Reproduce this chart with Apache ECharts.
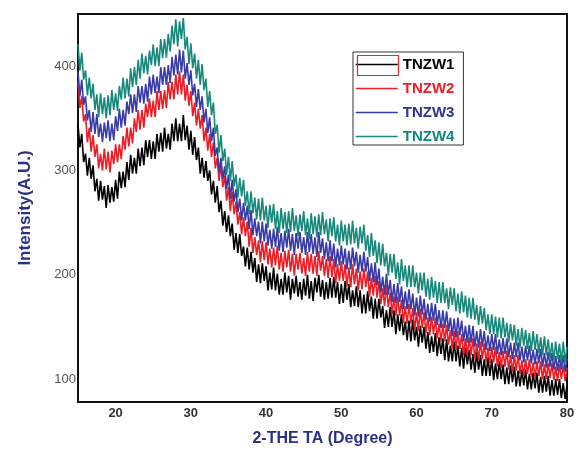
<!DOCTYPE html>
<html>
<head>
<meta charset="utf-8">
<script src="https://cdn.jsdelivr.net/npm/echarts@6/dist/echarts.min.js"></script>
<style>
html,body{margin:0;padding:0;background:#fff;}
#chart{width:579px;height:452px;}
</style>
</head>
<body>
<div id="chart"></div>
<script>
// 2-theta sampling grid (degrees): 15 to 80 every 0.25
const thetaStart = 15;
const thetaStep = 0.25;

// Intensity values (a.u.), one per 0.25 degree
const tnzw1 = [344,322,335,308, 316,295,312,292, 305,280,292,271, 290,272,285,264, 286,269,284,270, 291,273,299,283, 299,284,308,291, 315,297,312,297, 321,304,322,305, 329,313,329,311, 328,311,335,318, 336,318,341,321, 335,320,345,328, 350,328,345,328, 353,329,343,320, 338,315,332,310, 322,297,312,293, 309,290,300,277, 290,269,285,260, 271,247,261,241, 257,237,249,224, 240,221,239,218, 227,208,226,205, 222,202,216,193, 210,192,211,194, 208,185,202,186, 207,185,201,181, 196,181,202,183, 199,176,196,182, 199,179,193,176, 196,180,200,177, 194,175,197,183, 200,179,195,176, 193,177,197,178, 198,178,193,172, 191,173,194,176, 191,169,185,170, 189,169,185,163, 181,163,184,165, 179,158,177,158, 177,159,170,149, 166,150,169,150, 166,143,162,146, 162,142,155,137, 156,136,157,137, 150,131,151,135, 150,129,145,125, 141,126,144,122, 140,124,139,118, 138,117,132,117, 136,117,132,112, 130,110,130,114, 128,109,124,106, 126,109,123,103, 119,103,121,103, 119,99,115,100, 117,100,114,95, 111,95,113,97, 112,93,108,93, 109,94,109,90, 105,90,106,91, 106,87,102,87, 103,88,103,84, 99,84,100,85, 100,82,96,81, 94];
const tnzw2 = [385,360,371,347, 354,327,341,318, 334,313,325,302, 316,300,321,301, 318,298,319,306, 325,308,325,311, 333,320,341,323, 341,326,350,337, 358,339,358,341, 364,351,369,351, 367,351,376,358, 376,359,377,360, 385,368,385,368, 392,373,395,373, 392,367,382,362, 376,352,365,343, 359,340,353,328, 341,319,335,313, 327,302,312,290, 306,284,295,271, 284,261,279,258, 270,248,260,239, 255,237,251,227, 245,221,236,219, 233,212,232,214, 231,210,225,207, 226,209,228,205, 221,203,223,207, 224,203,220,199, 220,205,221,201, 216,199,222,203, 220,201,218,199, 223,204,218,199, 215,197,218,198, 215,192,210,194, 213,194,210,189, 207,188,210,191, 206,185,203,186, 206,188,203,179, 197,180,199,178, 194,172,187,170, 190,169,183,162, 179,161,179,161, 176,154,170,153, 172,153,168,147, 164,146,167,149, 164,144,159,142, 160,143,159,139, 153,136,153,136, 152,133,147,129, 146,128,146,129, 143,123,139,123, 140,123,139,119, 134,118,136,119, 134,116,130,115, 131,116,131,112, 126,111,127,112, 127,109,123,107, 123,108,123,105, 118,103,119,105, 119,102,116,101, 117,103,117,100, 114,100,115,101, 115,99,112,98, 114,100,113,98, 111];
const tnzw3 = [395,371,387,363, 371,348,358,337, 356,335,354,332, 345,327,346,331, 348,328,345,329, 352,338,359,341, 358,343,366,354, 373,355,373,356, 381,365,381,364, 383,366,390,373, 392,374,390,374, 399,382,399,382, 401,384,409,391, 411,392,416,394, 415,388,403,382, 396,372,383,361, 378,358,371,346, 359,336,351,328, 341,314,322,298, 312,292,304,282, 296,273,291,270, 282,260,273,252, 269,252,266,244, 262,238,254,237, 251,230,251,232, 249,228,243,225, 244,227,246,223, 240,222,242,226, 244,223,239,219, 240,225,241,221, 236,219,241,222, 239,220,236,217, 241,221,235,215, 231,213,233,213, 230,207,225,209, 228,210,225,205, 223,205,226,208, 222,202,219,203, 222,203,217,194, 211,193,212,190, 206,183,198,181, 201,181,195,174, 191,173,192,174, 189,167,184,167, 186,167,182,161, 178,160,180,162, 177,157,172,155, 173,156,172,152, 166,149,166,149, 165,146,159,141, 158,140,159,142, 156,136,151,135, 152,135,151,131, 146,130,148,131, 146,128,142,127, 143,128,143,124, 138,123,139,124, 139,121,135,119, 135,121,135,118, 131,116,132,118, 132,115,128,114, 129,115,129,112, 125,111,126,112, 125,109,122,108, 123,109,123,107, 120];
const tnzw4 = [421,396,413,387, 396,372,389,369, 383,358,373,351, 374,354,370,350, 372,353,377,358, 374,357,381,368, 389,369,388,371, 398,380,399,382, 406,388,412,393, 410,392,415,401, 421,400,418,400, 426,408,426,408, 431,414,439,421, 445,419,443,426, 446,416,428,402, 422,398,412,388, 406,382,402,377, 388,361,376,353, 365,335,344,317, 334,309,321,296, 313,290,309,285, 296,274,293,275, 291,266,280,258, 280,259,274,253, 273,252,274,252, 266,245,267,250, 268,244,261,240, 264,244,260,240, 261,241,264,242, 257,237,258,242, 261,238,254,234, 259,239,256,236, 258,238,260,239, 253,232,254,237, 255,232,248,228, 252,232,248,228, 249,229,252,230, 245,225,246,230, 248,223,238,217, 240,218,233,211, 231,209,230,208, 221,199,220,202, 220,196,212,191, 215,194,209,188, 209,188,209,188, 202,182,202,185, 202,179,196,176, 198,178,194,173, 193,173,193,173, 187,167,188,171, 187,165,182,163, 184,164,180,159, 178,158,178,157, 171,152,170,153, 168,147,162,143, 162,143,160,140, 159,139,159,140, 154,135,153,137, 152,132,148,130, 149,132,147,129, 144,127,146,128, 143,125,140,123, 141,123,138,120, 135,118,136,119, 134,116,136,116, 131];

const seriesNames = ['TNZW1','TNZW2','TNZW3','TNZW4'];
const seriesColors = ['#000000','#ee1c24','#3a3aa6','#17897a'];
const legendColors = ['#000000','#ee1c24','#2e3192','#12877a'];

// axis tick labels
const xTicks = [20,30,40,50,60,70,80];
const yTicks = [100,200,300,400];

const allValues = [tnzw1, tnzw2, tnzw3, tnzw4];
function toPairs(vals){
  return vals.map((v,i)=>[thetaStart + i*thetaStep, v]);
}

const FONT = 'Liberation Sans, Arial, sans-serif';
const chart = echarts.init(document.getElementById('chart'), null, {renderer:'canvas'});
chart.setOption({
  animation:false,
  backgroundColor:'#ffffff',
  grid:{left:78,right:12,top:14,bottom:40,show:true,borderColor:'#111',borderWidth:2,backgroundColor:'transparent'},
  legend:{
    orient:'vertical',
    left:353, top:52,
    itemWidth:42, itemHeight:14, itemGap:9,
    padding:[5,9,1,2],
    borderColor:'#333', borderWidth:1,
    backgroundColor:'#fff',
    itemStyle:{opacity:0},
    lineStyle:{width:1.5},
    data: seriesNames.map((n,i)=>({name:n, textStyle:{color:legendColors[i]}})),
    textStyle:{fontFamily:FONT,fontWeight:'bold',fontSize:15,lineHeight:14}
  },
  xAxis:{
    type:'value', min:15, max:80,
    name:'2-THE TA (Degree)', nameLocation:'middle', nameGap:29,
    nameTextStyle:{color:'#2b2f86',fontWeight:'bold',fontSize:16,fontFamily:FONT},
    axisLine:{show:true,lineStyle:{color:'#111',width:2}},
    axisTick:{show:false},
    splitLine:{show:false},
    axisLabel:{customValues:xTicks,color:'#333',fontWeight:'bold',fontSize:13,margin:5,fontFamily:FONT}
  },
  yAxis:{
    type:'value', min:78, max:450,
    name:'Intensity(A.U.)', nameLocation:'middle', nameGap:44, nameRotate:90,
    nameTextStyle:{color:'#2b2f86',fontWeight:'bold',fontSize:17,fontFamily:FONT},
    axisLine:{show:true,lineStyle:{color:'#111',width:2}},
    axisTick:{show:false},
    splitLine:{show:false},
    axisLabel:{customValues:yTicks,color:'#555',fontSize:13,margin:2,fontFamily:FONT}
  },
  series: allValues.map((vals,i)=>({
    name:seriesNames[i], type:'line', symbol:'none', showSymbol:false,
    data:toPairs(vals),
    lineStyle:{color:seriesColors[i],width:1.6},
    itemStyle:{color:seriesColors[i]},
    z:2
  })),
  graphic:[{
    type:'rect', left:355, top:53, shape:{width:41,height:20},
    style:{fill:'none',stroke:'#f0202a',lineWidth:1.2}, z:100
  }]
});
</script>
</body>
</html>
